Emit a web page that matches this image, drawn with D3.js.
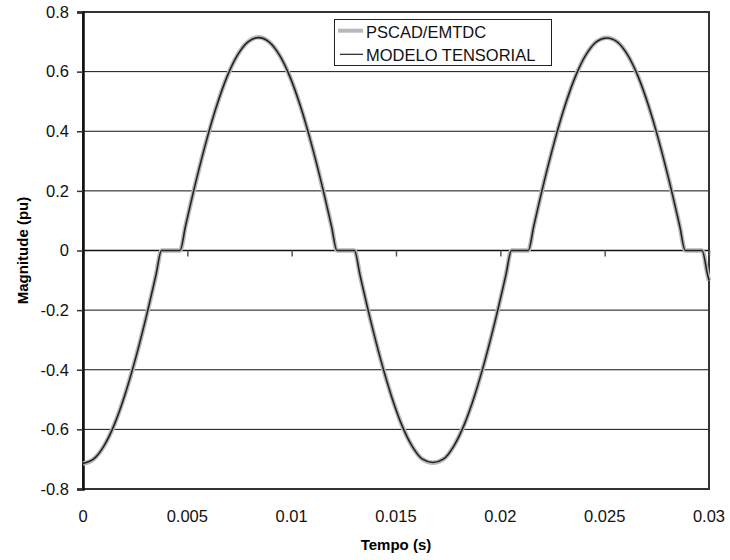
<!DOCTYPE html>
<html>
<head>
<meta charset="utf-8">
<script src="https://cdn.jsdelivr.net/npm/d3@7"></script>
<style>
body { margin: 0; background: white; }
text { font-family: "Liberation Sans", Arial, sans-serif; }
</style>
</head>
<body>
<svg id="chart"></svg>
<script>
// time (s) and values (pu)
var tempo = [0, 0.0005, 0.001, 0.0015, 0.002, 0.0025, 0.003, 0.0035, 0.00376,
    0.00465, 0.00491, 0.00541, 0.00591, 0.00641, 0.00691, 0.00741, 0.00791, 0.00841,
    0.00891, 0.00941, 0.00991, 0.01041, 0.01091, 0.01141, 0.01191, 0.01217,
    0.01301, 0.01327, 0.01377, 0.01427, 0.01477, 0.01527, 0.01577, 0.01627, 0.01677,
    0.01727, 0.01777, 0.01827, 0.01877, 0.01927, 0.01977, 0.02027, 0.02053,
    0.02134, 0.0216, 0.0221, 0.0226, 0.0231, 0.0236, 0.0241, 0.0246, 0.0251,
    0.0256, 0.0261, 0.0266, 0.0271, 0.0276, 0.0281, 0.0286, 0.02886,
    0.02967, 0.02993, 0.03]

var pscad = [-0.715, -0.700, -0.656, -0.584, -0.486, -0.367, -0.231, -0.081, 0,
    0, 0.081, 0.231, 0.367, 0.486, 0.584, 0.656, 0.700, 0.715,
    0.700, 0.656, 0.584, 0.486, 0.367, 0.231, 0.081, 0,
    0, -0.081, -0.231, -0.367, -0.486, -0.584, -0.656, -0.700, -0.712,
    -0.700, -0.656, -0.584, -0.486, -0.367, -0.231, -0.081, 0,
    0, 0.081, 0.231, 0.367, 0.486, 0.584, 0.656, 0.700, 0.714,
    0.700, 0.656, 0.584, 0.486, 0.367, 0.231, 0.081, 0,
    0, -0.081, -0.101]

var tensorial = [-0.714, -0.700, -0.656, -0.584, -0.486, -0.367, -0.231, -0.081, 0,
    0, 0.081, 0.231, 0.367, 0.486, 0.584, 0.656, 0.700, 0.714,
    0.700, 0.656, 0.584, 0.486, 0.367, 0.231, 0.081, 0,
    0, -0.081, -0.231, -0.367, -0.486, -0.584, -0.656, -0.700, -0.711,
    -0.700, -0.656, -0.584, -0.486, -0.367, -0.231, -0.081, 0,
    0, 0.081, 0.231, 0.367, 0.486, 0.584, 0.656, 0.700, 0.713,
    0.700, 0.656, 0.584, 0.486, 0.367, 0.231, 0.081, 0,
    0, -0.081, -0.100]

var seriesNames = ["PSCAD/EMTDC", "MODELO TENSORIAL"]
var xTicks = [0, 0.005, 0.01, 0.015, 0.02, 0.025, 0.03]
var yTicks = [-0.8, -0.6, -0.4, -0.2, 0, 0.2, 0.4, 0.6, 0.8]

var width = 730, height = 560
var pLeft = 83, pTop = 12, pRight = 709, pBottom = 489

var svg = d3.select("#chart")
    .attr("width", width)
    .attr("height", height)

var x = d3.scaleLinear().domain([0, 0.03]).range([pLeft, pRight])
var y = d3.scaleLinear().domain([-0.8, 0.8]).range([pBottom, pTop])

// grid lines
svg.append("g")
    .selectAll("line")
    .data(yTicks.filter(function(d) { return d != 0.8 && d != -0.8 }))
    .enter()
    .append("line")
        .attr("x1", pLeft)
        .attr("x2", pRight)
        .attr("y1", function(d) { return y(d) })
        .attr("y2", function(d) { return y(d) })
        .attr("stroke", "#111")
        .attr("stroke-width", function(d) { return d == 0 ? 1.6 : 1 })

// plot border
svg.append("rect")
    .attr("x", pLeft)
    .attr("y", pTop)
    .attr("width", pRight - pLeft)
    .attr("height", pBottom - pTop)
    .attr("fill", "none")
    .attr("stroke", "#333")
    .attr("stroke-width", 2)

// x ticks sit on the zero line
svg.append("g")
    .attr("transform", "translate(0," + y(0) + ")")
    .call(d3.axisBottom(x).tickValues(xTicks).tickSize(6).tickFormat(""))
    .call(function(g) {
        g.select(".domain").remove()
        g.selectAll("line").attr("stroke", "#555").attr("stroke-width", 1.5)
    })

svg.append("g")
    .selectAll("text")
    .data(xTicks)
    .enter()
    .append("text")
        .attr("x", function(d) { return x(d) })
        .attr("y", 522)
        .attr("text-anchor", "middle")
        .attr("font-size", "16.5px")
        .attr("fill", "#111")
        .text(function(d) { return String(d) })

// y axis
svg.append("g")
    .attr("transform", "translate(" + pLeft + ",0)")
    .call(d3.axisLeft(y).tickValues(yTicks).tickSize(6).tickPadding(8)
        .tickFormat(function(d) { return String(+d.toFixed(1)) }))
    .call(function(g) {
        g.select(".domain").attr("stroke", "#111").attr("stroke-width", 2.5)
        g.selectAll("line").attr("stroke", "#333").attr("stroke-width", 1.5)
        g.selectAll("text")
            .attr("font-size", "16.5px")
            .attr("fill", "#111")
            .attr("font-family", "Liberation Sans, Arial, sans-serif")
    })

// curves
var line = d3.line()
    .x(function(d) { return x(d[0]) })
    .y(function(d) { return y(d[1]) })
    .curve(d3.curveMonotoneX)

svg.append("path")
    .datum(d3.zip(tempo, pscad))
    .attr("d", line)
    .attr("fill", "none")
    .attr("stroke", "#b8b8b8")
    .attr("stroke-width", 4.5)

svg.append("path")
    .datum(d3.zip(tempo, tensorial))
    .attr("d", line)
    .attr("fill", "none")
    .attr("stroke", "#222")
    .attr("stroke-width", 1.6)

// legend
var legend = svg.append("g")
legend.append("rect")
    .attr("x", 334.5)
    .attr("y", 19.5)
    .attr("width", 217)
    .attr("height", 46)
    .attr("fill", "white")
    .attr("stroke", "#222")
    .attr("stroke-width", 1)

legend.selectAll("line")
    .data(seriesNames)
    .enter()
    .append("line")
        .attr("x1", function(d, i) { return i == 0 ? 338 : 340 })
        .attr("x2", 363)
        .attr("y1", function(d, i) { return 30.7 + i * 23.6 })
        .attr("y2", function(d, i) { return 30.7 + i * 23.6 })
        .attr("stroke", function(d, i) { return i == 0 ? "#b8b8b8" : "#222" })
        .attr("stroke-width", function(d, i) { return i == 0 ? 4 : 1.2 })

legend.selectAll("text")
    .data(seriesNames)
    .enter()
    .append("text")
        .attr("x", 366)
        .attr("y", function(d, i) { return 37.5 + i * 23.6 })
        .attr("font-size", "16.5px")
        .attr("fill", "#111")
        .text(function(d) { return d })

// axis titles
svg.append("text")
    .attr("x", (pLeft + pRight) / 2)
    .attr("y", 550)
    .attr("text-anchor", "middle")
    .attr("font-size", "15px")
    .attr("font-weight", "bold")
    .text("Tempo (s)")

svg.append("text")
    .attr("transform", "translate(28," + y(0) + ") rotate(-90)")
    .attr("text-anchor", "middle")
    .attr("font-size", "15px")
    .attr("font-weight", "bold")
    .text("Magnitude (pu)")
</script>
</body>
</html>
